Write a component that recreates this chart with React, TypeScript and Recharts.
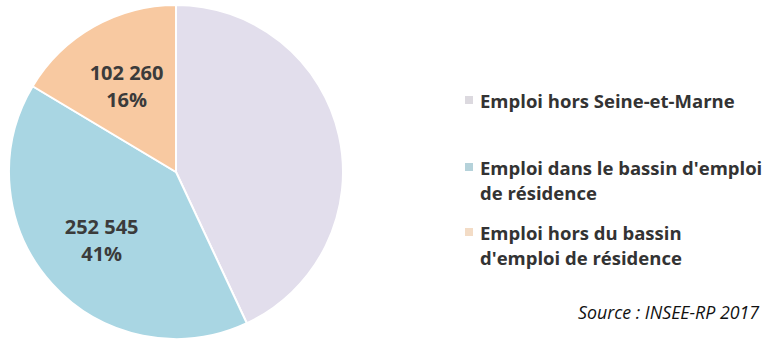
import React from "react";
import { PieChart, Pie, Cell, Legend } from "recharts";

const categories = [
  "Emploi hors Seine-et-Marne",
  "Emploi dans le bassin d'emploi de résidence",
  "Emploi hors du bassin d'emploi de résidence",
];
const legendLines = [
  ["Emploi hors Seine-et-Marne"],
  ["Emploi dans le bassin d'emploi", "de résidence"],
  ["Emploi hors du bassin", "d'emploi de résidence"],
];
const values = [268000, 252545, 102260];
const showLabel = [false, true, true];
const colors = ["#E2DEEC", "#A9D6E3", "#F8C9A1"];
const markerColors = ["#DCD9DF", "#B5D2DA", "#F3DCC6"];
const sourceText = "Source : INSEE-RP 2017";

const data = categories.map((name, i) => ({ name, value: values[i] }));

const fmt = (v: number) => String(v).replace(/\B(?=(\d{3})+(?!\d))/g, " ");

const RAD = Math.PI / 180;
const renderLabel = (props: any) => {
  const { cx, cy, midAngle, outerRadius, percent, value, index } = props;
  if (!showLabel[index]) return null;
  const r = outerRadius * 0.6;
  const x = cx + r * Math.cos(-midAngle * RAD);
  const y = cy + r * Math.sin(-midAngle * RAD);
  return (
    <text
      x={x}
      y={y}
      textAnchor="middle"
      fill="#3b3b3b"
      fontFamily="'Open Sans', sans-serif"
      fontWeight={700}
      fontSize={20}
    >
      <tspan x={x} dy={-5}>{fmt(value)}</tspan>
      <tspan x={x} dy={27}>{Math.round(percent * 100) + "%"}</tspan>
    </text>
  );
};

const LegendContent = () => (
  <div style={{ fontFamily: "'Open Sans', sans-serif", fontWeight: 700, fontSize: 18.5, color: "#333" }}>
    {legendLines.map((lines, i) => (
      <div key={i} style={{ position: "relative", marginBottom: i === 0 ? 42 : 15, lineHeight: "25px" }}>
        <span
          style={{
            position: "absolute",
            left: -15,
            top: 8,
            width: 8,
            height: 8,
            background: markerColors[i],
          }}
        />
        {lines.map((l, j) => (
          <div key={j} style={{ whiteSpace: "nowrap" }}>{l}</div>
        ))}
      </div>
    ))}
  </div>
);

export default function App() {
  return (
    <div style={{ position: "absolute", left: 0, top: 0, width: 765, height: 343, background: "#fff", overflow: "hidden" }}>
      <PieChart width={765} height={343} margin={{ top: 0, right: 0, bottom: 0, left: 0 }}>
        <Pie
          data={data}
          dataKey="value"
          nameKey="name"
          cx={176}
          cy={172}
          outerRadius={167}
          startAngle={90}
          endAngle={-270}
          stroke="#ffffff"
          strokeWidth={2}
          label={renderLabel}
          labelLine={false}
          isAnimationActive={false}
        >
          {data.map((d, i) => (
            <Cell key={d.name} fill={colors[i]} />
          ))}
        </Pie>
        <Legend
          content={<LegendContent />}
          wrapperStyle={{ position: "absolute", left: 480, top: 88, width: 285 }}
        />
      </PieChart>
      <div
        style={{
          position: "absolute",
          left: 578,
          top: 300,
          fontFamily: "'Open Sans', sans-serif",
          fontStyle: "italic",
          fontSize: 17.8,
          color: "#111",
          whiteSpace: "nowrap",
        }}
      >
        {sourceText}
      </div>
    </div>
  );
}
